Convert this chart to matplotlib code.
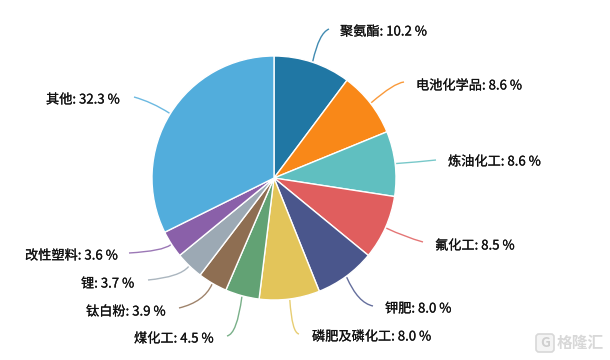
import numpy as np
import matplotlib
matplotlib.use('Agg')
import matplotlib.pyplot as plt
import matplotlib.patheffects as pe
from matplotlib.patches import FancyBboxPatch, PathPatch
from matplotlib.path import Path

plt.rcParams['font.family'] = ['Noto Sans CJK SC', 'DejaVu Sans']

### Data
names = ['聚氨酯', '电池化学品', '炼油化工', '氟化工', '钾肥', '磷肥及磷化工',
         '煤化工', '钛白粉', '锂', '改性塑料', '其他']
shares = [10.2, 8.6, 8.6, 8.5, 8.0, 8.0, 4.5, 3.9, 3.7, 3.6, 32.3]
colors = ['#2077a4', '#f98818', '#60bfc0', '#e05e5e', '#4a568c', '#e3c55a',
          '#62a274', '#8e6e52', '#9ca9b4', '#8a60a9', '#52addc']

### Layout, in image pixels (y down)
W, H = 610, 360
cx, cy, rad = 274, 178, 122
# label left edge + baseline centre
label_xy = [(340, 32), (416, 86), (448, 162), (435, 246), (385, 309), (312, 337),
            (134, 339), (86, 312), (81, 284), (25, 256), (46, 100)]
# leader line control point + end
ctrl_xy = [(319, 33), (394, 83), (418, 162), (405, 237), (358, 303), (292, 333),
           (237, 334), (204, 302), (180, 277), (163, 251), (152, 102)]
end_xy = [(329, 29), (404, 82), (436, 160), (423, 242), (373, 306), (299, 334),
          (227, 336), (179, 308), (148, 280), (129, 253), (134, 97)]

fig = plt.figure(figsize=(W / 100, H / 100), dpi=100)
ax = fig.add_axes([0, 0, 1, 1])

wedges, _ = ax.pie(shares, colors=colors, startangle=90, counterclock=False,
                   center=(cx, H - cy), radius=rad, frame=True,
                   wedgeprops=dict(edgecolor='white', linewidth=1.0))
ax.set_xlim(0, W)
ax.set_ylim(0, H)
ax.set_aspect('equal')
ax.axis('off')

# Leader lines and labels
heavy = [pe.withStroke(linewidth=0.15, foreground='#111111')]
for i, w in enumerate(wedges):
    mid = np.deg2rad(0.5 * (w.theta1 + w.theta2))
    start = (cx + (rad + 1) * np.cos(mid), H - cy + (rad + 1) * np.sin(mid))
    ctrl = (ctrl_xy[i][0], H - ctrl_xy[i][1])
    end = (end_xy[i][0], H - end_xy[i][1])
    path = Path([start, ctrl, end], [Path.MOVETO, Path.CURVE3, Path.CURVE3])
    ax.add_patch(PathPatch(path, fill=False, edgecolor=colors[i], linewidth=1.0, alpha=0.85))
    ax.text(label_xy[i][0], H - label_xy[i][1], f'{names[i]}: {shares[i]:.1f} %',
            fontsize=9.5, color='#111111', va='center', ha='left', path_effects=heavy)

# Watermark
ax.add_patch(FancyBboxPatch((536, H - 352), 18, 18, boxstyle='round,pad=0,rounding_size=3',
                            facecolor='#f4f4f4', edgecolor='#d8d8d8', linewidth=1.2))
ax.text(545, H - 343, 'G', fontsize=10, color='#cfcfcf', ha='center', va='center', fontweight='bold')
ax.text(557, H - 343, '格隆汇', fontsize=11.3, color='#d8d8d8', ha='left', va='center', fontweight='bold')

fig.savefig('out.png', dpi=100)
plt.close(fig)
